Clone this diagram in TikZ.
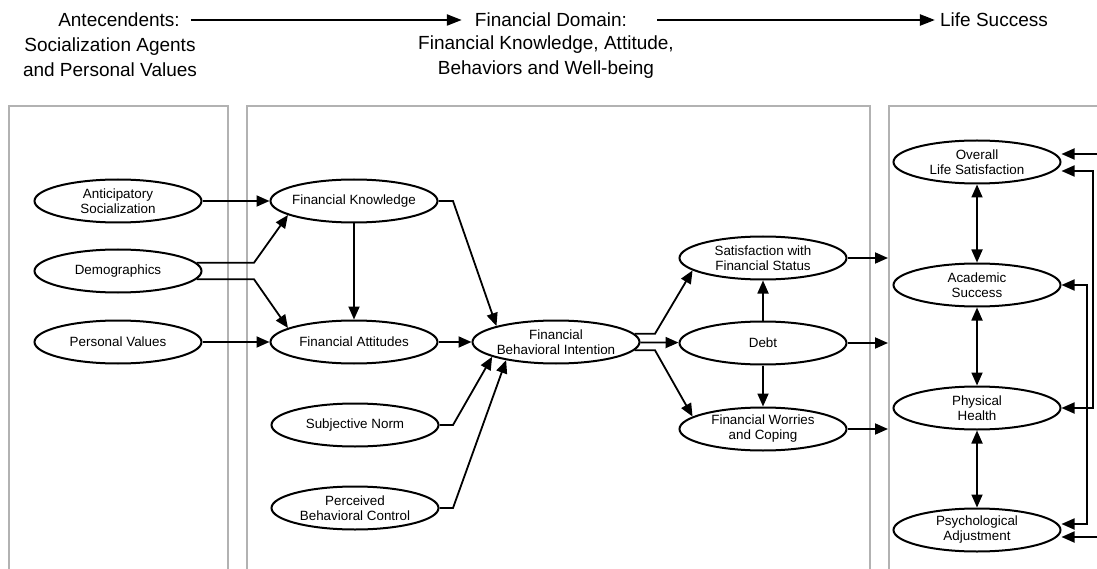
\documentclass[tikz,border=0pt]{standalone}
\usepackage{fontspec}
\setmainfont{Liberation Sans}
\usetikzlibrary{shapes.geometric,arrows.meta,calc}
\begin{document}
\begin{tikzpicture}[x=1pt,y=-1pt,
 ell/.style={ellipse,draw,line width=2pt,minimum width=167pt,minimum height=43pt,inner xsep=-8pt,inner ysep=0pt,align=center,font=\fontsize{13.4}{15}\selectfont},
 arr/.style={line width=1.8pt,-{Triangle[length=13pt,width=11pt]}},
 darr/.style={line width=1.8pt,{Triangle[length=13pt,width=11pt]}-{Triangle[length=13pt,width=11pt]}},
 harr/.style={line width=2.3pt,-{Triangle[length=15pt,width=11pt]}},
 panel/.style={draw=black!30,line width=1.8pt},
 head/.style={align=center,font=\fontsize{19}{25}\selectfont,inner sep=0pt}]
\useasboundingbox (0,0) rectangle (1097,569);
\fill[white] (0,0) rectangle (1097,569);
% panels
\draw[panel] (9,569) -- (9,106) -- (228,106) -- (228,569);
\draw[panel] (247,569) -- (247,106) -- (870,106) -- (870,569);
\draw[panel] (889,569) -- (889,106) -- (1097,106);
% header
\node[head] (h1a) at (119,20) {Antecendents:};
\node[head] (h1b) at (110,57) {Socialization Agents\\and Personal Values};
\node[head] (h2a) at (551,20) {Financial Domain:};
\node[head] (h2b) at (546,57) {Financial Knowledge, Attitude,\\Behaviors and Well-being};
\node[head] (h3) at (994,20) {Life Success};
\draw[harr] ([xshift=11pt]h1a.east) -- ([xshift=-13pt]h2a.west);
\draw[harr] ([xshift=30pt]h2a.east) -- ([xshift=-5pt]h3.west);
% nodes
\node[ell] (AS) at (118,201) {Anticipatory\\Socialization};
\node[ell] (DM) at (118,271) {Demographics};
\node[ell] (PV) at (118,342) {Personal Values};
\node[ell] (FK) at (354,201) {Financial Knowledge};
\node[ell] (FA) at (354,342) {Financial Attitudes};
\node[ell] (FBI) at (556,342) {Financial\\Behavioral Intention};
\node[ell] (SN) at (355,425) {Subjective Norm};
\node[ell] (PBC) at (355,508) {Perceived\\Behavioral Control};
\node[ell] (SAT) at (763,258) {Satisfaction with\\Financial Status};
\node[ell] (DEBT) at (763,343) {Debt};
\node[ell] (FWC) at (763,429) {Financial Worries\\and Coping};
\node[ell] (OLS) at (977,162) {Overall\\Life Satisfaction};
\node[ell] (ACS) at (977,285) {Academic\\Success};
\node[ell] (PHH) at (977,408) {Physical\\Health};
\node[ell] (PSA) at (977,530) {Psychological\\Adjustment};
% helper coordinates
\coordinate (bx1) at (254,0);
\coordinate (bx2) at (453,0);
\coordinate (bx3) at (655,0);
\coordinate (p3) at (888,0);
\coordinate (xo) at (1093,0);
\coordinate (xi) at (1087,0);
\coordinate (e1) at (1097,154);
\coordinate (e2) at (1097,537);
% connectors
\draw[arr] (AS) -- (FK);
\draw[arr] (DM.6) -- (DM.6 -| bx1) -- (FK.192);
\draw[arr] (DM.-6) -- (DM.-6 -| bx1) -- (FA.168);
\draw[arr] (PV) -- (FA);
\draw[arr] (FK) -- (FA);
\draw[arr] (FK.east) -- (FK.east -| bx2) -- (FBI.165);
\draw[arr] (FA) -- (FBI);
\draw[arr] (SN.east) -- (SN.east -| bx2) -- (FBI.193);
\draw[arr] (PBC.east) -- (PBC.east -| bx2) -- (FBI.200);
\draw[arr] (FBI.6) -- (FBI.6 -| bx3) -- (SAT.190);
\draw[arr] (FBI) -- (DEBT);
\draw[arr] (FBI.-6) -- (FBI.-6 -| bx3) -- (FWC.170);
\draw[arr] (DEBT) -- (SAT);
\draw[arr] (DEBT) -- (FWC);
\draw[arr] (SAT.east) -- (SAT.east -| p3);
\draw[arr] (DEBT.east) -- (DEBT.east -| p3);
\draw[arr] (FWC.east) -- (FWC.east -| p3);
\draw[darr] (OLS) -- (ACS);
\draw[darr] (ACS) -- (PHH);
\draw[darr] (PHH) -- (PSA);
\draw[arr] (e1) -- (e1 -| OLS.east);
\draw[arr] (e2) -- (e2 -| PSA.east);
\draw[darr] ([yshift=-9pt]OLS.east) -- ([yshift=-9pt]OLS.east -| xo) -- (PHH.east -| xo) -- (PHH.east);
\draw[darr] (ACS.east) -- (ACS.east -| xi) -- ([yshift=6pt]PSA.east -| xi) -- ([yshift=6pt]PSA.east);
\end{tikzpicture}
\end{document}
